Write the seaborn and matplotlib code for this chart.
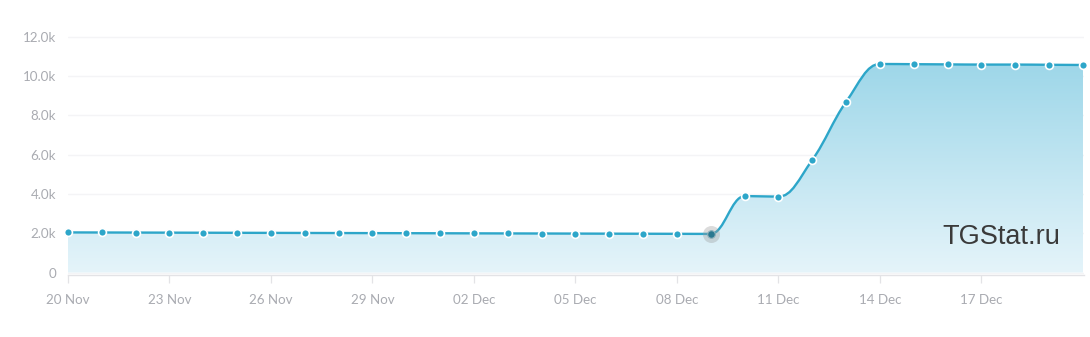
import numpy as np
import pandas as pd
import matplotlib
matplotlib.use("Agg")
import matplotlib.pyplot as plt
import matplotlib.dates as mdates
from matplotlib.path import Path
from matplotlib.patches import PathPatch
import seaborn as sns

# ---------------- data ----------------
start_date = "2019-11-20"
subscribers = [2040, 2036, 2032, 2028, 2024, 2020, 2016, 2012, 2008, 2004,
               2000, 1996, 1992, 1988, 1984, 1980, 1976, 1972, 1968, 1964,
               3890, 3860, 5730, 8690, 10610, 10600, 10590, 10580, 10580, 10570, 10560]
dates = pd.date_range(start_date, periods=len(subscribers), freq="D")
highlight_index = 19  # 09 Dec (hovered point)
y_ticks = [0, 2000, 4000, 6000, 8000, 10000, 12000]
y_tick_labels = ["0", "2.0k", "4.0k", "6.0k", "8.0k", "10.0k", "12.0k"]
x_tick_labels = ["20 Nov", "23 Nov", "26 Nov", "29 Nov", "02 Dec",
                 "05 Dec", "08 Dec", "11 Dec", "14 Dec", "17 Dec"]
x_tick_every = 3
watermark = "TGStat.ru"

df = pd.DataFrame({"date": dates, "value": subscribers})

# ---------------- style ----------------
sns.set_theme(style="white")
plt.rcParams["font.family"] = ["Lato", "DejaVu Sans"]

LINE = "#2da6c9"
GRID = "#f4f4f6"
AXIS = "#e3e3e6"
LABEL = "#a9abb1"

W, H = 1090, 337
fig = plt.figure(figsize=(W / 100, H / 100), dpi=100)
left_px, right_px, top_px, bottom_px = 68, 1084, 35.5, 275
ax = fig.add_axes([left_px / W, 1 - bottom_px / H,
                   (right_px - left_px) / W, (bottom_px - top_px) / H])

xs = mdates.date2num(df["date"])
ys = np.asarray(df["value"], dtype=float)


# Highcharts-like spline (smoothing 1.5) as cubic Bezier path
def spline_path(x, y, smoothing=1.5):
    n = len(x)
    denom = smoothing + 1
    lcx, lcy = x.copy(), y.copy()
    rcx, rcy = x.copy(), y.copy()
    for i in range(1, n - 1):
        lx, ly, nx, ny = x[i - 1], y[i - 1], x[i + 1], y[i + 1]
        px, py = x[i], y[i]
        lcx_ = (smoothing * px + lx) / denom
        lcy_ = (smoothing * py + ly) / denom
        rcx_ = (smoothing * px + nx) / denom
        rcy_ = (smoothing * py + ny) / denom
        corr = 0.0
        if rcx_ != lcx_:
            corr = (rcy_ - lcy_) * (rcx_ - px) / (rcx_ - lcx_) + py - rcy_
        lcy_ += corr
        rcy_ += corr
        if lcy_ > ly and lcy_ > py:
            lcy_ = max(ly, py); rcy_ = 2 * py - lcy_
        elif lcy_ < ly and lcy_ < py:
            lcy_ = min(ly, py); rcy_ = 2 * py - lcy_
        if rcy_ > ny and rcy_ > py:
            rcy_ = max(ny, py); lcy_ = 2 * py - rcy_
        elif rcy_ < ny and rcy_ < py:
            rcy_ = min(ny, py); lcy_ = 2 * py - rcy_
        lcx[i], lcy[i], rcx[i], rcy[i] = lcx_, lcy_, rcx_, rcy_
    verts = [(x[0], y[0])]
    codes = [Path.MOVETO]
    for i in range(1, n):
        verts += [(rcx[i - 1], rcy[i - 1]), (lcx[i], lcy[i]), (x[i], y[i])]
        codes += [Path.CURVE4] * 3
    return verts, codes


verts, codes = spline_path(xs, ys)

# area fill with vertical gradient
fill_verts = verts + [(xs[-1], 0), (xs[0], 0), (xs[0], ys[0])]
fill_codes = codes + [Path.LINETO, Path.LINETO, Path.CLOSEPOLY]
fill_patch = PathPatch(Path(fill_verts, fill_codes), facecolor="none", edgecolor="none")
ax.add_patch(fill_patch)
top_c = np.array([158, 215, 233]) / 255
bot_c = np.array([229, 244, 250]) / 255
t = np.linspace(0, 1, 256)[:, None]
grad = top_c[None, :] * (1 - t) + bot_c[None, :] * t
grad = grad[:, None, :]
im = ax.imshow(grad, extent=[xs[0], xs[-1], 0, ys.max()], aspect="auto",
               origin="upper", zorder=1, interpolation="bilinear")
im.set_clip_path(fill_patch)

# smooth line
ax.add_patch(PathPatch(Path(verts, codes), facecolor="none", edgecolor=LINE,
                       lw=1.7, zorder=3, capstyle="round", joinstyle="round"))

# markers
sns.scatterplot(data=df.drop(index=highlight_index), x="date", y="value", ax=ax,
                color=LINE, s=32, edgecolor="white", linewidth=1.2, zorder=4,
                clip_on=False, legend=False)
hl = df.iloc[[highlight_index]]
ax.scatter(mdates.date2num(hl["date"]), hl["value"], s=150, color="#9a9a9a",
           alpha=0.35, linewidth=0, zorder=4, clip_on=False)
ax.scatter(mdates.date2num(hl["date"]), hl["value"], s=30, color="#2a7890",
           edgecolor="#8fb0ba", linewidth=0.8, zorder=5, clip_on=False)

# axes
ax.set_xlim(xs[0], xs[-1] + 0.03)
ax.set_ylim(-127, 12060)
ax.set_yticks(y_ticks)
ax.set_yticklabels(y_tick_labels)
ax.set_xticks(xs[:len(x_tick_labels) * x_tick_every:x_tick_every])
ax.set_xticklabels(x_tick_labels)
ax.grid(axis="y", color=GRID, lw=1.0)
ax.grid(axis="x", visible=False)
ax.set_axisbelow(True)
for s in ["top", "right", "left"]:
    ax.spines[s].set_visible(False)
ax.spines["bottom"].set_color(AXIS)
ax.spines["bottom"].set_linewidth(1.0)
ax.tick_params(axis="y", length=0, pad=8.5, labelsize=9.6, labelcolor=LABEL)
ax.tick_params(axis="x", length=6, width=0.9, color=AXIS, pad=8,
               labelsize=9.6, labelcolor=LABEL, direction="out", bottom=True)
ax.set_xlabel("")
ax.set_ylabel("")
ax.set_facecolor("white")

fig.text(1060 / W, 1 - 237 / H, watermark, ha="right", va="center",
         fontsize=19.5, color="#3a3a3a", family=["Liberation Sans", "DejaVu Sans"])

fig.savefig("out.png", dpi=100, facecolor="white")
